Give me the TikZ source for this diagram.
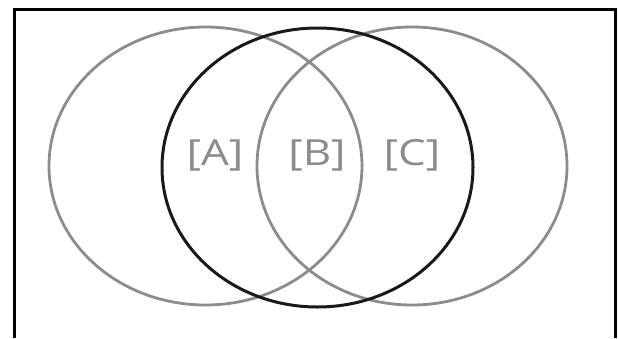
\documentclass[tikz,border=0pt]{standalone}
\usepackage{fontspec}
\setmainfont{Open Sans}
\begin{document}
\begin{tikzpicture}[x=1pt,y=-1pt,
  graycirc/.style={draw=black!45, line width=2.8pt},
  blackcirc/.style={draw=black!90, line width=3pt},
  lab/.style={text=black!45, font=\fontsize{36}{40}\selectfont, xscale=1.22, inner sep=0pt}]
\useasboundingbox (0,0) rectangle (619,338);
\draw[line width=2.5pt, black] (14.5,338) -- (14.5,9.7) -- (615.5,9.7) -- (615.5,338);
\draw[graycirc] (205.5,166) ellipse [x radius=156.5, y radius=139];
\draw[graycirc] (412,166) ellipse [x radius=155, y radius=139];
\draw[blackcirc] (317.5,167.5) ellipse [x radius=155.5, y radius=139.5];
\node[lab] (a) at (215,155) {[A]};
\node[lab] (b) at (317,155) {[B]};
\node[lab] (c) at (412,155) {[C]};
\end{tikzpicture}
\end{document}
